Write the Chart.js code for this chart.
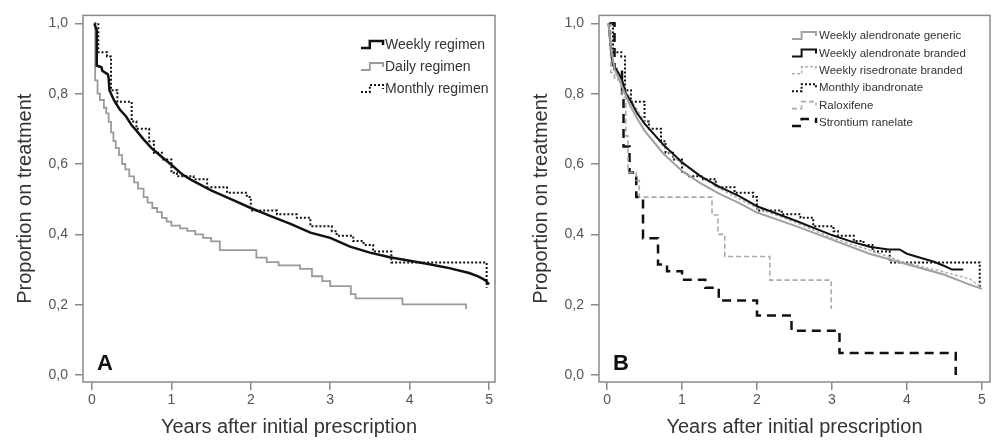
<!DOCTYPE html>
<html>
<head>
<meta charset="utf-8">
<script src="https://cdn.jsdelivr.net/npm/chart.js@4.4.0/dist/chart.umd.min.js"></script>
<style>
  html, body { margin: 0; padding: 0; background: #fff; }
  #wrap { display: flex; width: 992px; height: 444px; }
  canvas { display: block; }
</style>
</head>
<body>
<div id="wrap">
  <canvas id="chartA" width="496" height="444"></canvas>
  <canvas id="chartB" width="496" height="444"></canvas>
</div>
<script>
const FONT = '"Liberation Sans", Arial, sans-serif';

// tick values
const yTicks = [0, 0.2, 0.4, 0.6, 0.8, 1.0];
const xTicks = [0, 1, 2, 3, 4, 5];

// Panel A  -  [years, proportion on treatment]
const weeklyRegimen = [[0.03,1.0],[0.06,0.98],[0.06,0.88],[0.12,0.875],[0.13,0.865],[0.2,0.855],[0.21,0.845],[0.22,0.81],
  [0.28,0.78],[0.35,0.755],[0.43,0.735],[0.5,0.71],[0.56,0.695],[0.65,0.67],[0.75,0.645],[0.88,0.62],[1.0,0.598],
  [1.14,0.57],[1.25,0.555],[1.5,0.525],[1.75,0.5],[2.0,0.475],[2.25,0.452],[2.5,0.43],[2.75,0.405],[3.0,0.39],
  [3.25,0.365],[3.5,0.348],[3.75,0.335],[4.0,0.325],[4.25,0.315],[4.5,0.304],[4.75,0.29],[4.87,0.28],[4.95,0.27],[5.0,0.258]];
const dailyRegimen = [[0.03,1.0],[0.04,0.838],[0.07,0.80],[0.1,0.782],[0.15,0.76],[0.18,0.744],[0.21,0.72],[0.24,0.69],
  [0.27,0.665],[0.3,0.645],[0.34,0.625],[0.38,0.60],[0.42,0.585],[0.47,0.565],[0.53,0.548],[0.58,0.53],[0.65,0.506],
  [0.7,0.49],[0.76,0.475],[0.82,0.463],[0.88,0.447],[0.94,0.436],[1.0,0.425],[1.11,0.417],[1.2,0.41],[1.3,0.40],
  [1.4,0.39],[1.5,0.38],[1.61,0.355],[2.07,0.334],[2.2,0.321],[2.35,0.312],[2.62,0.302],[2.77,0.281],[2.9,0.267],
  [3.0,0.253],[3.26,0.23],[3.32,0.218],[3.91,0.201],[4.71,0.188]];
const monthlyRegimen = [[0.03,1.0],[0.08,0.918],[0.19,0.906],[0.24,0.81],[0.32,0.777],[0.5,0.721],[0.56,0.70],
  [0.72,0.665],[0.78,0.632],[0.88,0.613],[1.0,0.575],[1.07,0.565],[1.28,0.557],[1.45,0.534],[1.7,0.518],[1.95,0.506],
  [2.0,0.468],[2.33,0.457],[2.58,0.447],[2.75,0.423],[3.02,0.409],[3.08,0.396],[3.29,0.381],[3.42,0.37],[3.54,0.351],
  [3.77,0.32],[4.97,0.248]];

// Panel B
const alendronateGeneric = [[0.02,1.0],[0.05,0.93],[0.1,0.87],[0.2,0.82],[0.3,0.77],[0.4,0.73],[0.5,0.695],[0.75,0.63],
  [1.0,0.58],[1.25,0.545],[1.5,0.515],[1.75,0.49],[2.0,0.462],[2.5,0.425],[3.0,0.385],[3.5,0.345],[4.0,0.315],
  [4.5,0.285],[4.8,0.26],[5.0,0.245]];
const alendronateBranded = [[0.02,1.0],[0.05,0.93],[0.08,0.88],[0.15,0.86],[0.2,0.84],[0.25,0.8],[0.3,0.785],[0.4,0.745],
  [0.5,0.715],[0.75,0.655],[1.0,0.605],[1.25,0.565],[1.5,0.535],[1.75,0.51],[2.0,0.48],[2.5,0.44],[3.0,0.398],
  [3.25,0.38],[3.5,0.365],[3.75,0.357],[3.9,0.357],[4.0,0.345],[4.2,0.332],[4.35,0.323],[4.5,0.31],[4.6,0.30],[4.75,0.30]];
const risedronateBranded = [[0.02,1.0],[0.05,0.9],[0.1,0.88],[0.2,0.83],[0.3,0.79],[0.5,0.72],[0.75,0.65],[1.0,0.6],
  [1.5,0.53],[2.0,0.475],[2.5,0.435],[3.0,0.39],[3.5,0.355],[4.0,0.318],[4.5,0.293],[4.85,0.272],[4.97,0.253]];
const ibandronateMonthly = monthlyRegimen;
const raloxifene = [[0.03,1.0],[0.05,0.86],[0.1,0.84],[0.2,0.79],[0.25,0.68],[0.28,0.576],[0.39,0.553],[0.43,0.506],
  [1.40,0.455],[1.48,0.40],[1.57,0.337],[2.17,0.27],[2.99,0.188]];
const strontium = [[0.03,1.0],[0.1,0.87],[0.2,0.80],[0.22,0.65],[0.3,0.576],[0.39,0.506],[0.48,0.389],[0.68,0.314],
  [0.8,0.295],[1.0,0.271],[1.31,0.248],[1.49,0.212],[2.0,0.169],[2.46,0.126],[3.1,0.063],[4.65,0.0]];

const pts = arr => arr.map(p => ({ x: p[0], y: p[1] }));

// frame, panel letter and step-symbol legend
const panelDeco = {
  id: 'panelDeco',
  afterDatasetsDraw(chart, args, opts) {
    const { ctx, chartArea: a } = chart;
    ctx.save();
    ctx.strokeStyle = '#8a8a8a';
    ctx.lineWidth = 1.5;
    ctx.strokeRect(a.left, a.top, a.right - a.left, a.bottom - a.top);

    ctx.fillStyle = '#111';
    ctx.font = 'bold 22px ' + FONT;
    ctx.textBaseline = 'alphabetic';
    ctx.fillText(opts.letter, a.left + 14, a.bottom - 12);

    ctx.font = opts.fontSize + 'px ' + FONT;
    ctx.textBaseline = 'middle';
    chart.data.datasets.forEach((ds, i) => {
      const y = opts.y + i * opts.rowH;
      const x = opts.x, w = opts.symW;
      ctx.strokeStyle = ds.borderColor;
      ctx.lineWidth = ds.borderWidth;
      ctx.setLineDash(ds.borderDash || []);
      ctx.beginPath();
      ctx.moveTo(x, y + 3);
      ctx.lineTo(x + w * 0.4, y + 3);
      ctx.lineTo(x + w * 0.4, y - 4);
      ctx.lineTo(x + w, y - 4);
      ctx.lineTo(x + w, y);
      ctx.stroke();
      ctx.setLineDash([]);
      ctx.fillStyle = '#333';
      ctx.fillText(ds.label, x + w + opts.gap, y);
    });
    ctx.restore();
  }
};

function makeScales(xMin, xMax) {
  return {
    x: {
      type: 'linear', min: xMin, max: xMax,
      afterBuildTicks: s => { s.ticks = xTicks.map(v => ({ value: v })); },
      afterFit: s => { s.height = 62; },
      grid: { drawOnChartArea: false, drawTicks: true, tickLength: 8, color: '#8a8a8a', lineWidth: 1.5 },
      border: { display: false },
      ticks: { padding: 2, color: '#555', font: { family: FONT, size: 14 }, maxRotation: 0, autoSkip: false,
               callback: v => String(v) },
      title: { display: true, text: 'Years after initial prescription', color: '#333',
               font: { family: FONT, size: 20 }, padding: { top: 0, bottom: 5 } }
    },
    y: {
      min: -0.0197, max: 1.0225,
      afterBuildTicks: s => { s.ticks = yTicks.map(v => ({ value: v })); },
      afterFit: s => { s.width = 74; },
      grid: { drawOnChartArea: false, drawTicks: true, tickLength: 8, color: '#8a8a8a', lineWidth: 1.5 },
      border: { display: false },
      ticks: { padding: 7, color: '#555', font: { family: FONT, size: 14 },
               callback: v => v.toFixed(1).replace('.', ',') },
      title: { display: true, text: 'Proportion on treatment', color: '#333',
               font: { family: FONT, size: 20 }, padding: { top: 4, bottom: 0 } }
    }
  };
}

function line(label, data, color, width, dash, stepped) {
  return { label: label, data: pts(data), borderColor: color, borderWidth: width, borderDash: dash,
           stepped: stepped, pointRadius: 0, fill: false, tension: 0 };
}

// 패널 A
new Chart(document.getElementById('chartA'), {
  type: 'line',
  data: {
    datasets: [
      line('Weekly regimen', weeklyRegimen, '#111', 2.5, [], false),
      line('Daily regimen', dailyRegimen, '#9a9a9a', 1.8, [], true),
      line('Monthly regimen', monthlyRegimen, '#111', 2, [2, 2], true)
    ]
  },
  options: {
    responsive: false, animation: false, devicePixelRatio: 1,
    layout: { padding: { left: 9, top: 11, right: 1, bottom: 0 } },
    plugins: { legend: { display: false }, tooltip: { enabled: false },
               panelDeco: { letter: 'A', x: 361, y: 45, rowH: 22, symW: 22, gap: 2, fontSize: 14 } },
    scales: makeScales(-0.113, 5.075)
  },
  plugins: [panelDeco]
});

// 패널 B
new Chart(document.getElementById('chartB'), {
  type: 'line',
  data: {
    datasets: [
      line('Weekly alendronate generic', alendronateGeneric, '#a0a0a0', 2, [], false),
      line('Weekly alendronate branded', alendronateBranded, '#111', 2, [], false),
      line('Weekly risedronate branded', risedronateBranded, '#b0b0b0', 1.5, [3, 2], false),
      line('Monthly ibandronate', ibandronateMonthly, '#111', 2, [2, 2], true),
      line('Raloxifene', raloxifene, '#aaa', 1.6, [5, 3], true),
      line('Strontium ranelate', strontium, '#111', 2.5, [9, 6], true)
    ]
  },
  options: {
    responsive: false, animation: false, devicePixelRatio: 1,
    layout: { padding: { left: 29, top: 11, right: 2, bottom: 0 } },
    plugins: { legend: { display: false }, tooltip: { enabled: false },
               panelDeco: { letter: 'B', x: 296, y: 36, rowH: 17.4, symW: 24, gap: 3, fontSize: 11.5 } },
    scales: makeScales(-0.107, 5.107)
  },
  plugins: [panelDeco]
});
</script>
</body>
</html>
